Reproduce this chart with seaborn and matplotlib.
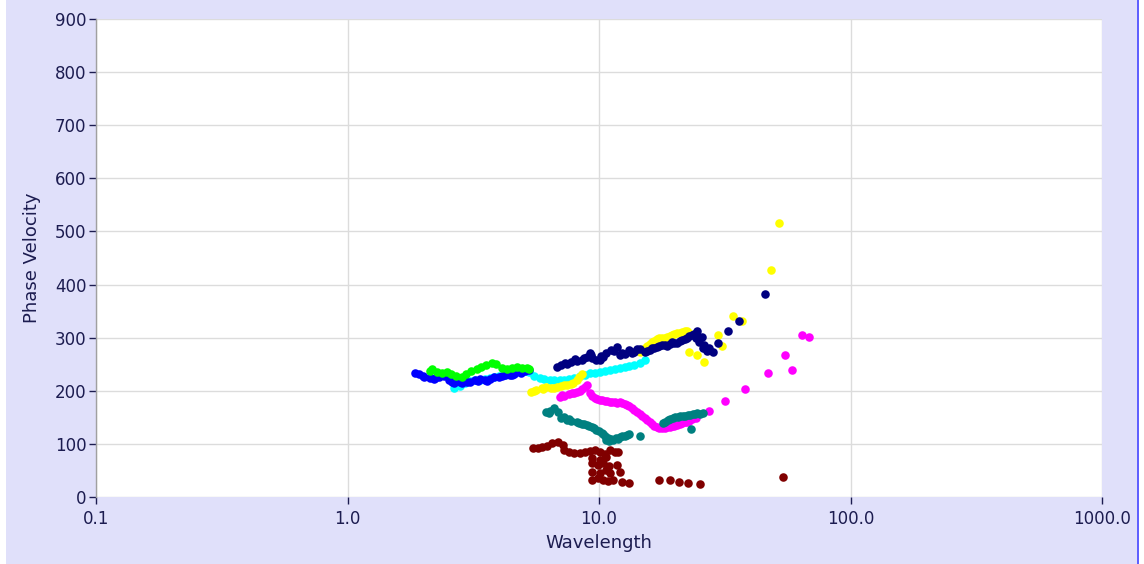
import pandas as pd
import matplotlib
matplotlib.use('Agg')
import matplotlib.pyplot as plt
import seaborn as sns
from matplotlib.patches import Rectangle

# ---- data (wavelength, phase velocity) ----
blue_w = [1.85, 1.93, 2.02, 2.12, 2.22, 2.32, 2.43, 2.54, 2.66, 2.79, 2.92, 3.06,
          3.20, 3.35, 3.51, 3.67, 3.84, 4.02, 4.21, 4.41, 4.61, 4.83, 5.06, 5.29,
          2.00, 2.20, 2.60, 2.85, 3.00, 3.30, 3.60, 4.10, 4.50, 4.90]
blue_v = [233, 232, 226, 224, 224, 226, 228, 220, 215, 217, 218, 217,
          220, 222, 220, 222, 226, 226, 230, 230, 232, 235, 237, 239,
          228, 222, 217, 214, 216, 218, 219, 228, 229, 234]

green_w = [2.12, 2.16, 2.26, 2.37, 2.48, 2.59, 2.71, 2.84, 2.97, 3.11, 3.26,
           3.41, 3.57, 3.74, 3.91, 4.10, 4.29, 4.49, 4.70, 4.92, 5.15, 5.29]
green_v = [237, 241, 235, 233, 235, 232, 228, 226, 232, 237, 241,
           245, 249, 252, 250, 243, 241, 243, 245, 243, 243, 241]

cyan_w = [2.66, 2.79, 2.92, 3.06, 3.20, 3.35, 3.51, 3.67, 3.84, 4.02, 4.21, 4.41, 4.61,
          4.83, 5.06, 5.29, 5.54, 5.80, 6.07, 6.36, 6.65, 6.97, 7.29, 7.63, 7.99, 8.37,
          8.76, 9.17, 9.60, 10.05, 10.52, 11.01, 11.53, 12.07, 12.63, 13.22, 13.84,
          14.49, 15.17]
cyan_v = [205, 209, 215, 218, 220, 220, 222, 224, 226, 228, 230, 232, 233,
          235, 237, 235, 228, 224, 222, 220, 220, 220, 220, 222, 224, 228,
          230, 233, 233, 235, 237, 239, 241, 243, 245, 247, 249, 252, 258]

navy_w = [6.78, 7.09, 7.43, 7.77, 8.14, 8.52, 8.92, 9.17, 9.42, 9.77, 10.05, 10.33,
          10.71, 11.21, 11.74, 12.07, 12.63, 13.22, 13.84, 14.49, 15.17, 15.88, 16.62,
          17.40, 18.22, 19.07, 19.96, 20.90, 21.88, 22.90, 23.97, 24.64, 25.56, 26.27,
          26.76, 27.50, 28.27, 29.60, 32.44, 35.87, 45.9,
          7.30, 8.00, 8.70, 9.30, 10.20, 11.50, 12.30, 13.50, 14.20, 15.50, 16.20,
          17.00, 17.80, 18.60, 19.50, 20.40, 21.40, 22.40, 23.40, 24.30, 25.00,
          25.90, 27.00]
navy_v = [245, 249, 250, 254, 256, 258, 264, 271, 262, 258, 258, 264,
          271, 277, 282, 267, 269, 277, 273, 279, 273, 277, 281,
          284, 286, 288, 290, 294, 298, 303, 307, 313, 301, 286,
          275, 281, 273, 290, 313, 331, 382,
          252, 260, 262, 268, 265, 275, 272, 272, 278, 275, 280,
          282, 286, 284, 292, 290, 296, 300, 305, 300, 292,
          280, 276]

yellow_w = [5.39, 5.64, 5.91, 6.18, 6.47, 6.78, 7.09, 7.43, 7.77, 8.14, 8.52,
            14.49, 15.17, 15.88, 16.62, 17.40, 18.22, 19.07, 19.96, 20.90, 21.88,
            22.90, 22.90, 24.64, 26.27, 29.60, 30.70, 33.96, 36.87, 48.5, 52.2,
            5.50, 6.00, 6.60, 7.25, 7.90, 8.30, 14.80, 15.50, 16.20, 17.00, 17.80,
            18.60, 19.50, 20.40, 21.40, 22.40]
yellow_v = [198, 201, 205, 207, 205, 207, 209, 211, 213, 220, 232,
            273, 281, 288, 294, 299, 299, 303, 307, 309, 313,
            309, 273, 267, 254, 305, 284, 341, 331, 427, 516,
            200, 203, 206, 210, 215, 226, 277, 284, 291, 297, 300,
            301, 305, 308, 311, 312]

magenta_w = [6.97, 7.29, 7.63, 7.99, 8.37, 8.76, 9.00, 9.17, 9.60, 10.05, 10.52, 11.01,
             11.53, 12.07, 12.63, 13.22, 13.84, 14.49, 15.17, 15.88, 16.62, 17.40,
             18.22, 19.07, 19.96, 20.90, 21.88, 22.90, 24.41, 27.50, 31.84, 37.9,
             46.8, 54.7, 58.8, 64.4, 68.1,
             7.10, 7.80, 8.20, 8.55, 9.35, 9.80, 10.30, 10.80, 11.30, 11.80, 12.35,
             12.90, 13.50, 14.10, 14.80, 15.50, 16.20, 17.00, 17.80, 18.60, 19.50,
             20.40, 21.40, 22.40, 23.50]
magenta_v = [188, 190, 194, 196, 200, 207, 211, 196, 186, 183, 181, 179,
             179, 179, 175, 171, 164, 156, 149, 141, 134, 130,
             130, 132, 134, 137, 141, 143, 149, 162, 181, 203,
             234, 267, 239, 305, 301,
             192, 195, 198, 203, 190, 184, 182, 180, 178, 177, 177,
             173, 167, 160, 153, 145, 137, 131, 129, 131, 133,
             136, 139, 142, 146]

teal_w = [6.13, 6.41, 6.65, 6.84, 7.09, 7.43, 7.77, 8.14, 8.52, 8.92, 9.34, 9.77,
          10.24, 10.52, 10.82, 11.21, 11.64, 12.07, 12.63, 13.22, 14.49, 17.89,
          18.73, 19.61, 20.52, 21.49, 22.49, 23.54, 24.64, 25.81, 23.32,
          6.30, 7.25, 7.60, 8.30, 8.70, 9.10, 9.55, 10.00, 10.40, 10.70, 11.00,
          11.40, 11.85, 12.30, 12.90, 18.30, 19.20, 20.10, 21.00, 22.00, 23.00,
          24.10, 25.30]
teal_v = [160, 162, 168, 160, 149, 145, 143, 141, 137, 136, 132, 126,
          121, 115, 111, 109, 111, 113, 115, 119, 115, 139,
          145, 149, 151, 152, 154, 156, 158, 158, 128,
          158, 150, 146, 140, 138, 134, 130, 124, 118, 108, 106,
          108, 110, 114, 117, 142, 147, 150, 152, 153, 155,
          157, 157]

maroon_w = [5.44, 5.70, 5.96, 6.24, 6.53, 6.84, 7.16, 7.29, 7.63, 7.99, 8.37, 8.76,
            9.17, 9.60, 10.05, 10.52, 11.01, 11.53, 11.85, 9.34, 10.05, 10.71,
            9.34, 9.87, 10.33, 10.91, 11.74, 9.34, 10.05, 10.62, 11.01, 12.07,
            9.34, 9.87, 10.33, 10.82, 11.32, 12.29, 13.22, 17.40, 19.07, 20.71,
            22.69, 25.10, 53.67]
maroon_v = [92, 92, 94, 96, 102, 104, 98, 89, 85, 83, 83, 85,
            87, 89, 85, 81, 89, 85, 85, 73, 70, 75,
            64, 60, 64, 58, 60, 47, 45, 51, 45, 47,
            32, 36, 32, 30, 32, 28, 26, 32, 32, 28,
            26, 24, 38]

x_ticks = [0.1, 1.0, 10.0, 100.0, 1000.0]
x_tick_labels = ['0.1', '1.0', '10.0', '100.0', '1000.0']
y_ticks = list(range(0, 1000, 100))

# drawing order matters: later series sit on top
series = [
    ('cyan', cyan_w, cyan_v, '#00FFFF'),
    ('blue', blue_w, blue_v, '#0000FF'),
    ('green', green_w, green_v, '#00FF00'),
    ('yellow', yellow_w, yellow_v, '#FFFF00'),
    ('navy', navy_w, navy_v, '#000080'),
    ('magenta', magenta_w, magenta_v, '#FF00FF'),
    ('teal', teal_w, teal_v, '#008080'),
    ('maroon', maroon_w, maroon_v, '#800000'),
]

frames = []
for name, w, v, _ in series:
    frames.append(pd.DataFrame({'Wavelength': w, 'Phase Velocity': v, 'set': name}))
df = pd.concat(frames, ignore_index=True)

sns.set_style('white')
plt.rcParams['font.family'] = ['DejaVu Sans']

txt = '#1C1C50'
bg = '#E0E0FA'

fig = plt.figure(figsize=(11.44, 5.64), dpi=100, facecolor='white')
fig.patches.append(Rectangle((6 / 1144, 0), 1131 / 1144, 1, transform=fig.transFigure,
                             facecolor=bg, edgecolor='none', zorder=-10))
fig.patches.append(Rectangle((1137 / 1144, 0), 2 / 1144, 1, transform=fig.transFigure,
                             facecolor='#6060FF', edgecolor='none', zorder=-9))

ax = fig.add_axes([96 / 1144, 1 - 497 / 564, 1006 / 1144, 478 / 564])
ax.set_facecolor('white')

for name, _, _, col in series:
    sub = df[df['set'] == name]
    sns.scatterplot(data=sub, x='Wavelength', y='Phase Velocity', color=col,
                    s=38, linewidth=0, ax=ax, legend=False, zorder=3)

ax.set_xscale('log')
ax.set_xlim(0.1, 1000)
ax.set_ylim(0, 900)
ax.set_xticks(x_ticks)
ax.set_xticklabels(x_tick_labels)
ax.minorticks_off()
ax.set_yticks(y_ticks)
ax.grid(True, color='#DCDCDC', linewidth=1)
ax.set_axisbelow(True)

for side in ['top', 'right', 'bottom']:
    ax.spines[side].set_visible(False)
ax.spines['left'].set_color('#A0A0A0')
ax.spines['left'].set_linewidth(1)

ax.tick_params(axis='both', direction='out', length=5, width=1, color=txt,
               labelcolor=txt, labelsize=12, left=True, bottom=True)
ax.tick_params(axis='y', pad=2)
ax.tick_params(axis='x', pad=4)

ax.set_xlabel('Wavelength', fontsize=13, color=txt, labelpad=5)
ax.set_ylabel('Phase Velocity', fontsize=13, color=txt, labelpad=10)

fig.savefig('out.png', dpi=100, facecolor=fig.get_facecolor())
